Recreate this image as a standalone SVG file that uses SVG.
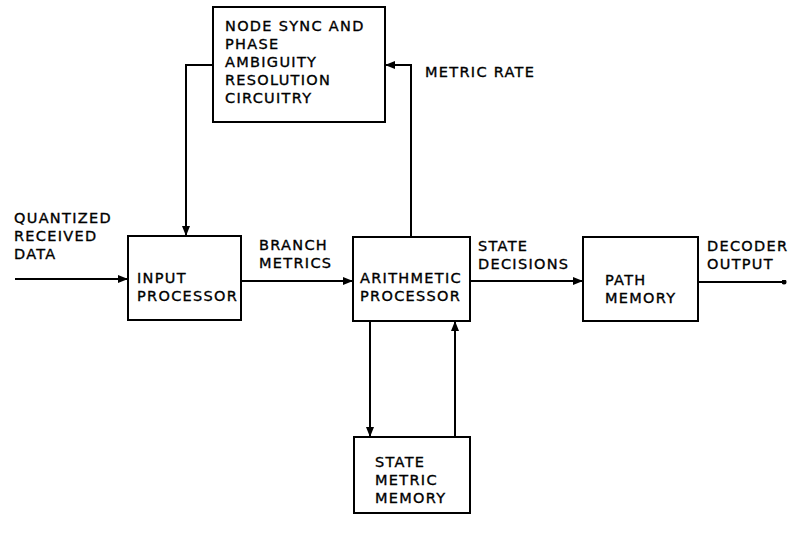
<svg xmlns="http://www.w3.org/2000/svg" width="788" height="537" viewBox="0 0 788 537">
<defs>
<style>
.box{fill:#fff;stroke:#000;stroke-width:2}
.ln{fill:none;stroke:#000;stroke-width:2}
text{font-family:"DejaVu Sans","Liberation Sans",sans-serif;font-size:14.5px;letter-spacing:1.3px;fill:#000;stroke:#000;stroke-width:0.35px}
</style>
<marker id="ah" viewBox="0 0 10 10" refX="10" refY="5" markerWidth="5" markerHeight="5" orient="auto" markerUnits="strokeWidth">
<path d="M0,1 L10,5 L0,9 z" fill="#000"/>
</marker>
<marker id="dot" viewBox="0 0 10 10" refX="5" refY="5" markerWidth="2.5" markerHeight="2.5" markerUnits="strokeWidth">
<circle cx="5" cy="5" r="5" fill="#000"/>
</marker>
</defs>
<rect width="788" height="537" fill="#fff"/>
<g id="connectors">
<line class="ln" x1="15" y1="279" x2="128" y2="279" marker-end="url(#ah)"/>
<line class="ln" x1="241" y1="281" x2="353" y2="281" marker-end="url(#ah)"/>
<line class="ln" x1="470" y1="281" x2="583" y2="281" marker-end="url(#ah)"/>
<line class="ln" x1="698" y1="282" x2="784" y2="282" marker-end="url(#dot)"/>
<polyline class="ln" points="213,65 186,65 186,236" marker-end="url(#ah)"/>
<polyline class="ln" points="411,237 411,65 385,65" marker-end="url(#ah)"/>
<line class="ln" x1="370" y1="321" x2="370" y2="437" marker-end="url(#ah)"/>
<line class="ln" x1="455" y1="437" x2="455" y2="321" marker-end="url(#ah)"/>
</g>
<g id="node-sync">
<rect class="box" x="213" y="7" width="172" height="115"/>
<text x="225" y="31">NODE SYNC AND</text>
<text x="225" y="49">PHASE</text>
<text x="225" y="67">AMBIGUITY</text>
<text x="225" y="85">RESOLUTION</text>
<text x="225" y="103">CIRCUITRY</text>
</g>
<g id="input-processor">
<rect class="box" x="128" y="236" width="113" height="84"/>
<text x="137" y="283">INPUT</text>
<text x="137" y="301">PROCESSOR</text>
</g>
<g id="arithmetic-processor">
<rect class="box" x="353" y="237" width="117" height="84"/>
<text x="360" y="283">ARITHMETIC</text>
<text x="360" y="301">PROCESSOR</text>
</g>
<g id="path-memory">
<rect class="box" x="583" y="237" width="115" height="84"/>
<text x="605" y="285">PATH</text>
<text x="605" y="303">MEMORY</text>
</g>
<g id="state-metric-memory">
<rect class="box" x="354" y="437" width="116" height="76"/>
<text x="375" y="467">STATE</text>
<text x="375" y="485">METRIC</text>
<text x="375" y="503">MEMORY</text>
</g>
<g id="labels">
<text x="425" y="77">METRIC RATE</text>
<text x="14" y="223">QUANTIZED</text>
<text x="14" y="241">RECEIVED</text>
<text x="14" y="259">DATA</text>
<text x="259" y="250">BRANCH</text>
<text x="259" y="268">METRICS</text>
<text x="478" y="251">STATE</text>
<text x="478" y="269">DECISIONS</text>
<text x="707" y="251">DECODER</text>
<text x="707" y="269">OUTPUT</text>
</g>
</svg>
